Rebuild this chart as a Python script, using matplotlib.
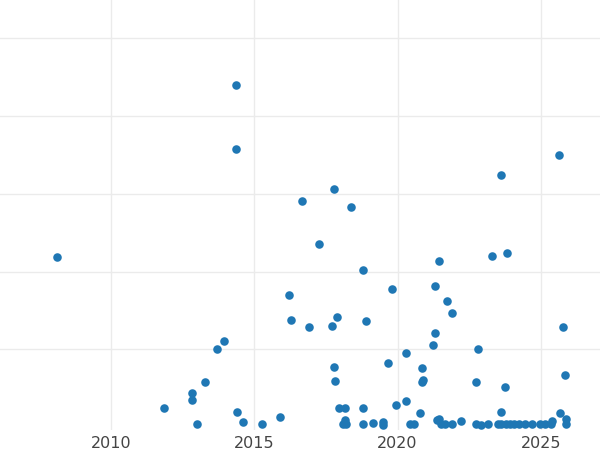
import matplotlib
matplotlib.use("Agg")
import matplotlib.pyplot as plt

years = [2008.12, 2011.85, 2012.82, 2012.82, 2013.0, 2013.28, 2013.7, 2013.94, 2014.36, 2014.36, 2014.38, 2014.6,
         2015.26, 2015.9, 2016.2, 2016.27, 2016.65, 2016.9, 2017.25, 2017.7, 2017.77, 2017.77, 2017.8, 2017.9,
         2017.95, 2018.15, 2018.15, 2018.2, 2018.36, 2018.1, 2018.78, 2018.8, 2018.88, 2018.8, 2019.13, 2019.5,
         2019.5, 2019.65, 2019.79, 2019.93, 2020.28, 2020.31, 2020.42, 2020.56, 2020.77, 2020.84, 2020.88, 2020.84,
         2021.22, 2021.29, 2021.36, 2021.29, 2021.46, 2021.46, 2021.53, 2021.67, 2021.74, 2021.88, 2021.91, 2022.2,
         2022.72, 2022.82, 2022.72, 2022.9, 2023.14, 2023.31, 2023.49, 2023.62, 2023.62, 2023.76, 2023.83,
         2023.62, 2023.79, 2023.93, 2024.07, 2024.25, 2024.46, 2024.7, 2024.95, 2025.15, 2025.39, 2025.36,
         2025.64, 2025.66, 2025.78, 2025.85, 2025.88, 2025.88]
values = [43.8, 4.9, 8.8, 7.0, 0.8, 11.6, 20.1, 22.1, 88.0, 71.6, 3.9, 1.3,
          0.8, 2.6, 34.0, 27.5, 58.2, 25.7, 47.1, 26.0, 61.3, 15.4, 11.8, 28.3,
          4.9, 4.9, 1.8, 0.8, 56.6, 0.8, 4.9, 40.4, 27.3, 0.8, 1.0, 1.3,
          0.5, 16.5, 35.5, 5.7, 6.7, 19.0, 0.8, 0.8, 3.6, 15.2, 12.0, 11.6,
          21.1, 36.3, 1.8, 24.2, 42.7, 2.1, 0.8, 0.8, 32.4, 29.3, 0.8, 1.6,
          11.6, 20.1, 0.8, 0.5, 0.8, 44.0, 0.8, 64.9, 3.9, 10.3, 44.8,
          0.8, 0.8, 0.8, 0.8, 0.8, 0.8, 0.8, 0.8, 0.8, 1.6, 0.8,
          70.0, 3.6, 25.7, 13.4, 2.1, 0.8]
xticks = [2010, 2015, 2020, 2025]
yticks = [20, 40, 60, 80, 100]

fig = plt.figure(figsize=(6, 4.5), dpi=100)
ax = fig.add_axes([0, 20/450, 1, 430/450])
ax.scatter(years, values, s=38, color="#1f77b4", zorder=3, clip_on=False, linewidths=0)
ax.set_xlim(2006.13, 2027.06)
ax.set_ylim(-0.77, 109.9)
ax.set_xticks(xticks)
ax.set_xticklabels([str(t) for t in xticks])
ax.set_yticks(yticks)
ax.set_yticklabels([])
ax.grid(True, color="#ebebeb", linewidth=1)
for s in ax.spines.values():
    s.set_visible(False)
ax.tick_params(length=0, labelsize=11.5, labelcolor="#444444", pad=4)
fig.savefig("out.png", dpi=100)
